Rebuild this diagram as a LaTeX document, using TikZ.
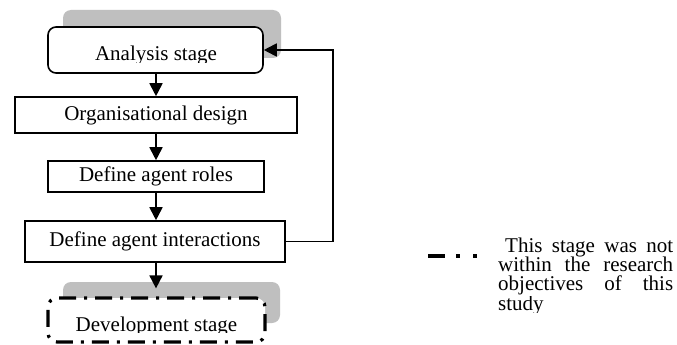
\documentclass[tikz,border=0pt]{standalone}
\usepackage{fontspec}
\setmainfont{Liberation Serif}
\usetikzlibrary{arrows.meta}
\begin{document}
\begin{tikzpicture}[x=1pt,y=-1pt,
  every node/.style={font=\fontsize{21}{18.5}\selectfont},
  box/.style={draw, line width=1.6pt, fill=white, inner sep=0pt, rectangle},
  roundbox/.style={box, rounded corners=8pt},
  devbox/.style={draw, line width=3.2pt, fill=white, rounded corners=9pt, inner sep=0pt, rectangle,
                 dash pattern=on 17pt off 8pt on 3pt off 8pt},
  shade/.style={fill=black!25, draw=none, rounded corners=8pt},
  txt/.style={inner sep=0pt, anchor=base},
  flow/.style={line width=1.8pt, -{Triangle[width=13pt,length=13pt]}}]
\fill[white] (0,0) rectangle (677,345);
\useasboundingbox (0,0) rectangle (677,345);
% shadows
\fill[shade] (63,10) rectangle (281,58);
\fill[shade] (63,282) rectangle (280,323);
% boxes
\node[roundbox, minimum width=215pt, minimum height=46pt] (ana) at (155.5,50) {};
\begin{scope}
  \clip (40,20) rectangle (270,62.5);
  \node[txt] (anatext) at (156,60.5) {Analysis stage};
\end{scope}
\node[box, minimum width=282pt, minimum height=36pt] (org) at (156,115) {Organisational design};
\node[box, minimum width=216pt, minimum height=31pt] (roles) at (156,176.5) {Define agent roles};
\node[box, minimum width=260pt, minimum height=41pt] (inter) at (155,241.5) {Define agent interactions};
\node[devbox, minimum width=217pt, minimum height=44pt] (dev) at (156.5,320) {};
\begin{scope}
  \clip (40,290) rectangle (270,332.5);
  \node[txt] (devtext) at (156.5,331) {Development stage};
\end{scope}
% connectors
\draw[flow] (ana.south -| org.north) -- (org.north);
\draw[flow] (org.south) -- (roles.north);
\draw[flow] (roles.south) -- (inter.north -| roles.south);
\draw[flow, shorten >=8pt] (inter.south -| roles.south) -- (dev.north -| roles.south);
\coordinate (fbx) at (333,0);
\draw[flow] (inter.east) -- (inter.east -| fbx) -- (ana.east -| fbx) -- (ana.east);
% legend
\draw[line width=4pt, dash pattern=on 17pt off 11pt on 4pt off 13pt on 4pt off 20pt] (428,256) -- (477,256);
\node[txt, anchor=base west] (l1) at (505,252) {\makebox[168pt][s]{This stage was not}};
\node[txt, anchor=base west] (l2) at (498,271.3) {\makebox[175pt][s]{within the research}};
\node[txt, anchor=base west] (l3) at (498,290.6) {\makebox[175pt][s]{objectives of this}};
\begin{scope}
  \clip (490,296) rectangle (677,312);
  \node[txt, anchor=base west] (l4) at (498,310) {study};
\end{scope}
\end{tikzpicture}
\end{document}
